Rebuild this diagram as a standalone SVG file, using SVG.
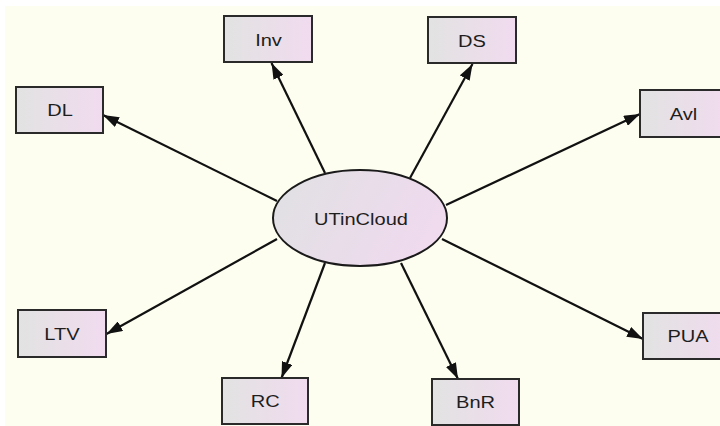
<svg xmlns="http://www.w3.org/2000/svg" width="720" height="426" viewBox="0 0 720 426">
  <defs>
    <linearGradient id="boxGrad" x1="0" y1="0" x2="1" y2="0">
      <stop offset="0" stop-color="#e2e3e2"/>
      <stop offset="1" stop-color="#f1dbef"/>
    </linearGradient>
    <linearGradient id="ellGrad" x1="0" y1="0" x2="1" y2="0.3">
      <stop offset="0" stop-color="#e0e1e3"/>
      <stop offset="1" stop-color="#efdaee"/>
    </linearGradient>
    <marker id="arrow" viewBox="0 0 16 11" refX="16" refY="5.5" markerWidth="16" markerHeight="11" markerUnits="userSpaceOnUse" orient="auto">
      <path d="M0,0 L16,5.5 L0,11 z" fill="#111"/>
    </marker>
  </defs>
  <style>
    .box { fill: url(#boxGrad); stroke: #2a2a2a; stroke-width: 2; }
    .ell { fill: url(#ellGrad); stroke: #1a1a1a; stroke-width: 2; }
    .lbl { font-family: "Liberation Sans", Arial, sans-serif; font-size: 17px; fill: #1e1e1e; text-anchor: middle; }
    .edge { stroke: #111; stroke-width: 2.2; fill: none; marker-end: url(#arrow); }
  </style>
  <rect x="0" y="0" width="720" height="426" fill="#ffffff"/>
  <rect x="5" y="6" width="715" height="420" fill="#fdfdf0"/>

  <g id="connectors">
    <line class="edge" x1="325" y1="173" x2="271.5" y2="63"/>
    <line class="edge" x1="277" y1="201" x2="103" y2="115"/>
    <line class="edge" x1="410" y1="178" x2="472.5" y2="64"/>
    <line class="edge" x1="446" y1="205" x2="640" y2="114"/>
    <line class="edge" x1="277" y1="239" x2="106.5" y2="334"/>
    <line class="edge" x1="325" y1="263" x2="281.5" y2="378"/>
    <line class="edge" x1="401" y1="263" x2="458" y2="379"/>
    <line class="edge" x1="442" y1="239" x2="643" y2="339"/>
  </g>

  <g id="UTinCloud">
    <ellipse class="ell" cx="360" cy="218" rx="87" ry="48"/>
    <text class="lbl" transform="translate(361,225) scale(1.18,1)">UTinCloud</text>
  </g>
  <g id="Inv">
    <rect class="box" x="224" y="16" width="88" height="46"/>
    <text class="lbl" transform="translate(268.5,45.5) scale(1.18,1)">Inv</text>
  </g>
  <g id="DS">
    <rect class="box" x="428" y="17" width="88" height="46"/>
    <text class="lbl" transform="translate(472,46.5) scale(1.18,1)">DS</text>
  </g>
  <g id="DL">
    <rect class="box" x="16" y="87" width="87" height="46"/>
    <text class="lbl" transform="translate(60,116) scale(1.18,1)">DL</text>
  </g>
  <g id="Avl">
    <rect class="box" x="640" y="90" width="88" height="47"/>
    <text class="lbl" transform="translate(683.5,119.5) scale(1.18,1)">Avl</text>
  </g>
  <g id="LTV">
    <rect class="box" x="18" y="310" width="88" height="47"/>
    <text class="lbl" transform="translate(62,340) scale(1.18,1)">LTV</text>
  </g>
  <g id="PUA">
    <rect class="box" x="643" y="313" width="88" height="46"/>
    <text class="lbl" transform="translate(688,341.7) scale(1.18,1)">PUA</text>
  </g>
  <g id="RC">
    <rect class="box" x="222" y="378" width="86" height="46"/>
    <text class="lbl" transform="translate(265.3,407) scale(1.18,1)">RC</text>
  </g>
  <g id="BnR">
    <rect class="box" x="432" y="379" width="87" height="46"/>
    <text class="lbl" transform="translate(475.5,408) scale(1.18,1)">BnR</text>
  </g>
</svg>
